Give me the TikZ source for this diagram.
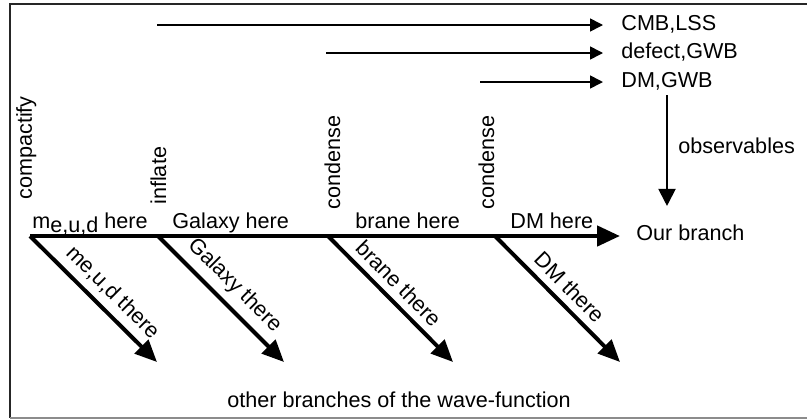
\documentclass[tikz,border=0pt]{standalone}
\usepackage{fontspec}
\setmainfont{Liberation Sans}
\usepackage{tikz}
\usetikzlibrary{arrows.meta}

\tikzset{
  lbl/.style={inner sep=0pt,font=\fontsize{10.8}{13}\selectfont},
  vlbl/.style={lbl,rotate=90,anchor=base west},
  herelbl/.style={lbl,anchor=base west},
  therelbl/.style={lbl,sloped,above,pos=0.5,inner sep=3.5pt},
  trunk/.style={line width=2.3pt,-{Triangle[length=11.5pt,width=10pt]}},
  branch/.style={line width=2pt,-{Triangle[length=11pt,width=9.5pt]}},
  obsarrow/.style={line width=0.8pt,-{Triangle[length=6.5pt,width=6.5pt]}},
}

\begin{document}
\begin{tikzpicture}[x=0.5pt,y=-0.5pt]
  \useasboundingbox (0,0) rectangle (807,419);
  % frame
  \draw[line width=1pt,black!85] (807,4) -- (10,4) -- (10,418);
  \draw[line width=1pt,black!45] (10,418) -- (807,418);

  % branch points and ends
  \coordinate (b0) at (30,236);
  \coordinate (b1) at (158,236);
  \coordinate (b2) at (328,236);
  \coordinate (b3) at (495,236);
  \coordinate (e0) at (157,362);
  \coordinate (e1) at (284,362);
  \coordinate (e2) at (453,362);
  \coordinate (e3) at (620,362);

  % observables
  \node(cmb)[lbl,anchor=base west] at (621,30) {CMB,LSS};
  \node(def)[lbl,anchor=base west] at (621,58) {defect,GWB};
  \node(dmg)[lbl,anchor=base west] at (621,87) {DM,GWB};
  \node(ours)[lbl,anchor=base west] at (636,240) {Our branch};
  \node(obs)[lbl,anchor=base west] at (678,153) {observables};
  \node(other)[lbl,anchor=base] at (399,407) {other branches of the wave-function};

  \coordinate (t1) at (157,25);
  \coordinate (t2) at (326,53);
  \coordinate (t3) at (480,82);
  \draw [obsarrow,shorten >=9pt] (t1) -- (t1 -| cmb.west);
  \draw [obsarrow,shorten >=9pt] (t2) -- (t2 -| def.west);
  \draw [obsarrow,shorten >=9pt] (t3) -- (t3 -| dmg.west);
  \draw [obsarrow,line width=1pt,-{Triangle[length=8.5pt,width=8.5pt]},shorten <=2.5pt,shorten >=9pt]
    (dmg.south) -- (dmg.south |- ours.north);

  % transitions
  \node(comp)[vlbl] at (32,200) {compactify};
  \node(infl)[vlbl] at (166,205) {inflate};
  \node(cond1)[vlbl] at (340,210) {condense};
  \node(cond2)[vlbl] at (494,210) {condense};

  % our branch
  \draw [trunk,shorten >=8pt] (b0) -- (b0 -| ours.west);
  \node(h0)[herelbl] at (32,228) {m\raisebox{-0.35ex}{e,u,d} here};
  \node(h1)[herelbl] at (172,228) {Galaxy here};
  \node(h2)[herelbl] at (355,228) {brane here};
  \node(h3)[herelbl] at (510,228) {DM here};

  % other branches
  \draw [branch] (b0) -- node[therelbl,pos=0.55]{me,u,d there} (e0);
  \draw [branch] (b1) -- node[therelbl]{Galaxy there} (e1);
  \draw [branch] (b2) -- node[therelbl,pos=0.47]{brane there} (e2);
  \draw [branch] (b3) -- node[therelbl]{DM there} (e3);

\end{tikzpicture}
\end{document}
